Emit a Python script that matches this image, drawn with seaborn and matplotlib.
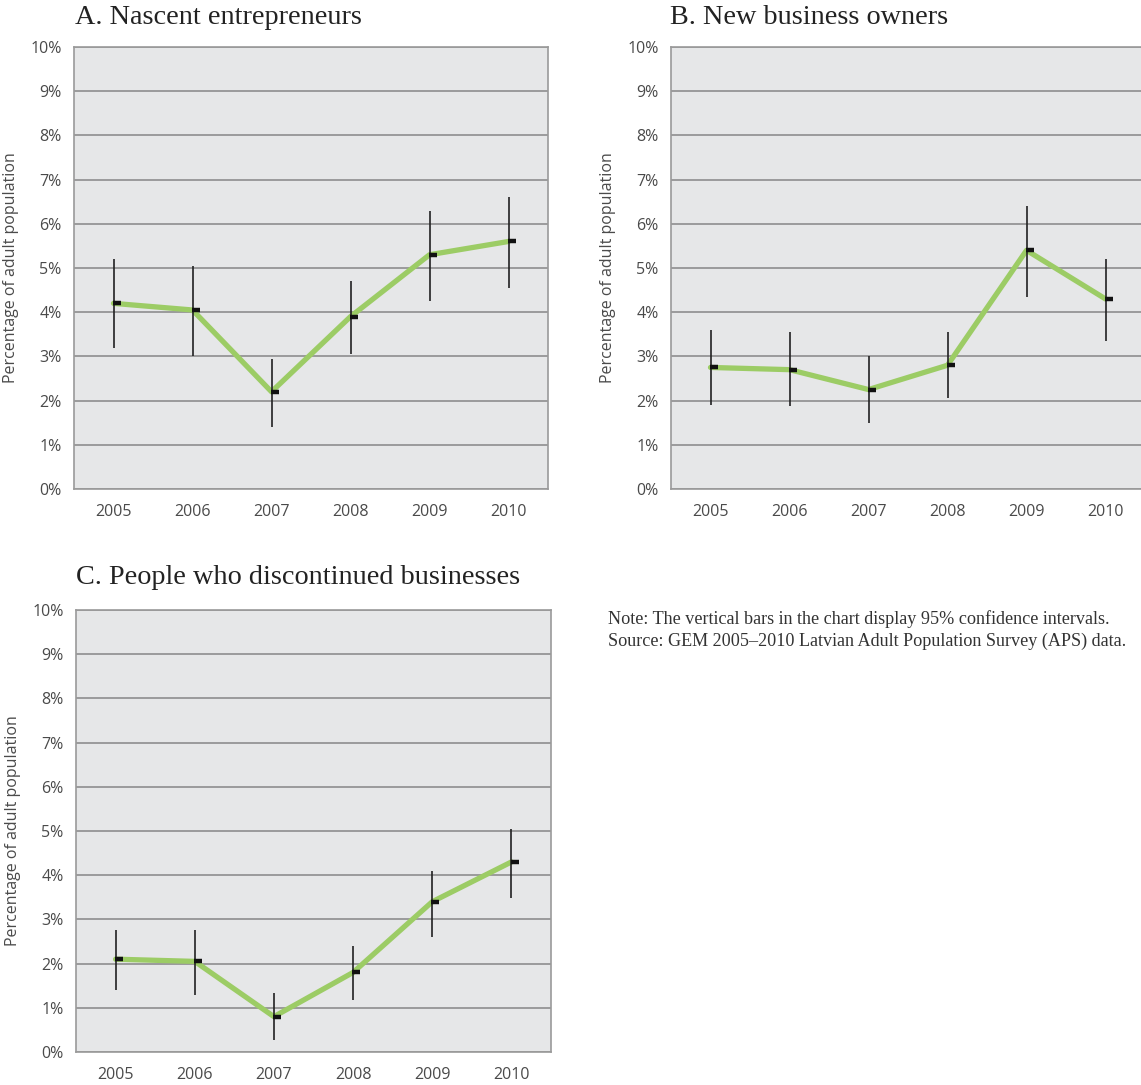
import numpy as np
import pandas as pd
import seaborn as sns
from matplotlib import pyplot as plt
from matplotlib.ticker import FixedLocator

# data (percent of adult population)
years = ['2005', '2006', '2007', '2008', '2009', '2010']

nascent_values = [4.2, 4.05, 2.2, 3.9, 5.3, 5.6]
nascent_low = [3.2, 3.0, 1.4, 3.05, 4.25, 4.55]
nascent_high = [5.2, 5.05, 2.95, 4.7, 6.3, 6.6]

new_owner_values = [2.75, 2.7, 2.25, 2.8, 5.4, 4.3]
new_owner_low = [1.9, 1.87, 1.5, 2.05, 4.35, 3.35]
new_owner_high = [3.6, 3.55, 3.0, 3.55, 6.4, 5.2]

discontinued_values = [2.1, 2.05, 0.8, 1.8, 3.4, 4.3]
discontinued_low = [1.4, 1.3, 0.28, 1.18, 2.6, 3.48]
discontinued_high = [2.75, 2.75, 1.33, 2.4, 4.1, 5.05]

y_ticks = list(range(0, 11))
y_tick_labels = [f'{t}%' for t in y_ticks]

panel_titles = ['A. Nascent entrepreneurs', 'B. New business owners', 'C. People who discontinued businesses']
y_label = 'Percentage of adult population'
note_lines = ['Note: The vertical bars in the chart display 95% confidence intervals.',
              'Source: GEM 2005\u20132010 Latvian Adult Population Survey (APS) data.']

GREEN = '#9ccc65'
PANEL_BG = '#e6e7e8'
GRID = '#8e8e8e'
TEXT = '#4a4a4a'
SERIF = ['Liberation Serif', 'DejaVu Serif']

sns.set_style('white')
plt.rcParams['font.family'] = ['Open Sans', 'DejaVu Sans']

W, H = 1141, 1085
fig = plt.figure(figsize=(W / 100, H / 100), dpi=100)


def px_axes(left, top, right, bottom):
    return fig.add_axes([left / W, 1 - bottom / H, (right - left) / W, (bottom - top) / H])


def draw_panel(ax, values, low, high):
    x = np.arange(len(years))
    df = pd.DataFrame({'pos': x, 'value': values})

    ax.set_facecolor(PANEL_BG)
    sns.lineplot(data=df, x='pos', y='value', ax=ax, color=GREEN, linewidth=3.8,
                 solid_capstyle='round', zorder=3)
    ax.vlines(x, low, high, color='#222222', linewidth=1.2, zorder=4)
    ax.plot(x + 0.04, values, linestyle='none', marker='_', markersize=5.5,
            markeredgewidth=3.2, color='#111111', zorder=5)

    ax.set_xlim(-0.5, len(years) - 0.5)
    ax.set_ylim(0, 10)
    ax.set_yticks(y_ticks)
    ax.set_yticklabels(y_tick_labels)
    ax.set_xticks(x)
    ax.set_xticklabels(years)
    ax.xaxis.set_minor_locator(FixedLocator(x[:-1] + 0.5))
    ax.tick_params(axis='both', which='major', length=0, labelsize=11.5, labelcolor=TEXT)
    ax.tick_params(axis='x', which='major', pad=11)
    ax.tick_params(axis='y', which='major', pad=9)
    ax.tick_params(axis='x', which='minor', direction='in', length=10, width=1.2, color=GRID)
    ax.set_xlabel('')
    ax.set_ylabel(y_label, fontsize=11.5, color=TEXT, labelpad=8)

    ax.grid(axis='y', color=GRID, linewidth=1.2)
    ax.set_axisbelow(True)
    for spine in ax.spines.values():
        spine.set_visible(True)
        spine.set_color('#9a9a9a')
        spine.set_linewidth(1.2)


ax_a = px_axes(74, 47, 548, 489)
ax_b = px_axes(671, 47, 1145, 489)
ax_c = px_axes(76, 610, 551, 1052)

draw_panel(ax_a, nascent_values, nascent_low, nascent_high)
draw_panel(ax_b, new_owner_values, new_owner_low, new_owner_high)
draw_panel(ax_c, discontinued_values, discontinued_low, discontinued_high)

for (tx, ty), title in zip([(75, 17), (670, 17), (76, 578)], panel_titles):
    fig.text(tx / W, 1 - ty / H, title, family=SERIF, fontsize=20.3, color='#222222', va='center')

for i, line in enumerate(note_lines):
    fig.text(608 / W, 1 - (619 + 22 * i) / H, line, family=SERIF, fontsize=13.1, color='#333333', va='center')

plt.savefig('out.png', dpi=100)
